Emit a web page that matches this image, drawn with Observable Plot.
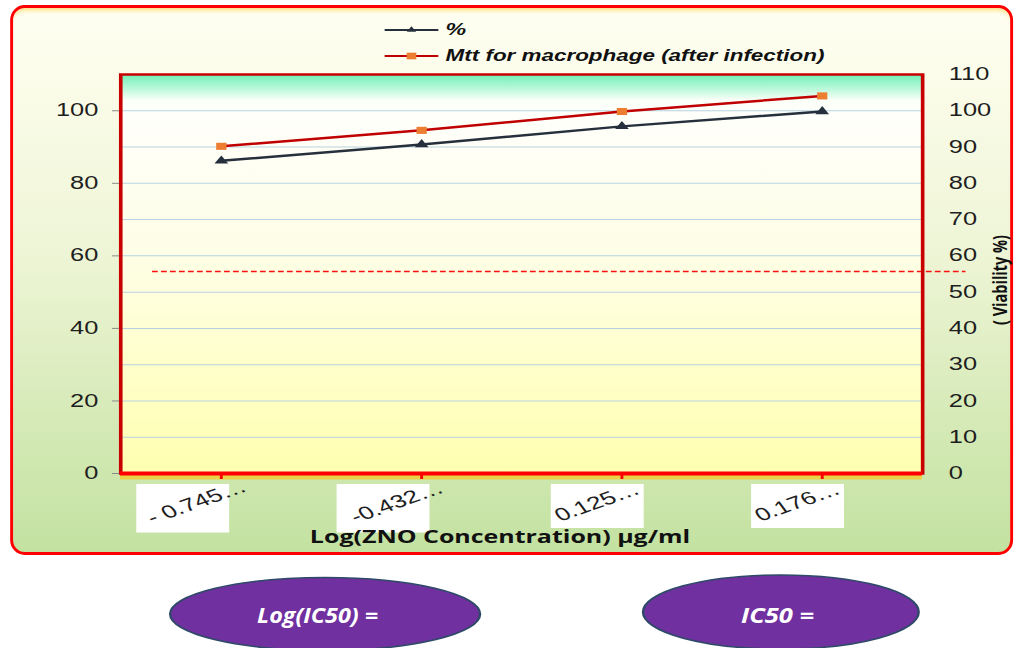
<!DOCTYPE html>
<html>
<head>
<meta charset="utf-8">
<script src="https://cdn.jsdelivr.net/npm/d3@7"></script>
<script src="https://cdn.jsdelivr.net/npm/@observablehq/plot@0.6"></script>
<style>
  html, body { margin: 0; padding: 0; background: #ffffff; overflow: hidden; }
  #stage { position: absolute; left: 0; top: 0; width: 700px; height: 648px; transform-origin: 0 0; transform: scaleX(1.4514); }
  #panel { position: absolute; left: 7px; top: 5px; width: 691px; height: 550px; box-sizing: border-box;
    border: 3px solid #ff0000; border-left-width: 2px; border-right-width: 2px; border-radius: 10px / 15px;
    background: linear-gradient(to bottom, #fffff2 0%, #fbfce9 14%, #eef5d6 45%, #d6eab8 75%, #c3e2a1 100%);
    box-shadow: inset 0 5px 4px -3px rgba(245, 190, 0, 0.55); }
  #chart { position: absolute; left: 0; top: 0; }
  #overlay { position: absolute; left: 0; top: 0; pointer-events: none; }
</style>
</head>
<body>
<div id="stage">
  <div id="panel"></div>
  <div id="chart"></div>
  <svg id="overlay" width="700" height="648" viewBox="0 0 700 648"></svg>
</div>
<script>
// ---- data ----
const categories = ["- 0.745…", "-0.432…", "0.125…", "0.176…"];
const percentValues = [86.2, 90.7, 95.7, 99.8];          // "%" series (dark, triangles)
const mttValues = [90.2, 94.6, 99.8, 104.1];             // "Mtt for macrophage (after infection)"
const cutoffLevel = [55.7];                              // red dashed reference line
const leftTicks = [0, 20, 40, 60, 80, 100];
const rightTicks = [0, 10, 20, 30, 40, 50, 60, 70, 80, 90, 100, 110];
const gridTicks = [10, 20, 30, 40, 50, 60, 70, 80, 90, 100];
const seriesNames = ["%", "Mtt for macrophage (after infection)"];
const xTitle = "Log(ZNO  Concentration) µg/ml";
const yRightTitle = "( Viability %)";
const bubbleTexts = ["Log(IC50) =", "IC50 ="];

const data = categories.map((c, i) => ({cat: c, pct: percentValues[i], mtt: mttValues[i]}));

const darkColor = "#262f3c";
const redLine = "#c00000";
const orange = "#ed7d31";

const negBox = { draw(ctx) { ctx.rect(-58.6, 10.5, 64, 48.5); } };
const posBox = { draw(ctx) { ctx.rect(-49, 10.5, 64, 44); } };
const isNeg = (d) => d.trim().startsWith("-");

const chart = Plot.plot({
  width: 700,
  height: 560,
  marginLeft: 82.7,
  marginRight: 64.8,
  marginTop: 74,
  marginBottom: 87,
  style: { background: "transparent", fontFamily: "Liberation Sans, Arial, sans-serif", overflow: "visible" },
  x: { type: "point", domain: categories, padding: 0.5, axis: null },
  y: { domain: [0, 110], axis: null },
  marks: [
    Plot.frame({ fill: "url(#plotbg)", stroke: "none" }),
    Plot.gridY(gridTicks, { stroke: "#b7d3e0", strokeOpacity: 1, strokeWidth: 1 }),
    Plot.axisY(leftTicks, { anchor: "left", tickSize: 5.5, tickPadding: 10, stroke: "#8a8a8a", fill: "#1e1e1e", fontSize: 17.5, label: null }),
    Plot.axisY(rightTicks, { anchor: "right", tickSize: 0, tickPadding: 18, fill: "#1e1e1e", fontSize: 17.5, label: null }),
    Plot.ruleY(cutoffLevel, { stroke: "#ff1010", strokeWidth: 1.6, strokeDasharray: "4,2.2", insetLeft: 22, insetRight: -30 }),
    Plot.line(data, { x: "cat", y: "pct", stroke: darkColor, strokeWidth: 2.5 }),
    Plot.dot(data, { x: "cat", y: "pct", symbol: "triangle", fill: darkColor, r: 3.5 }),
    Plot.line(data, { x: "cat", y: "mtt", stroke: redLine, strokeWidth: 2.5 }),
    Plot.dot(data, { x: "cat", y: "mtt", symbol: "square", fill: orange, r: 4 }),
    Plot.frame({ stroke: "#c80000", strokeWidth: 2.5 }),
    Plot.ruleY([0], { stroke: "#ffc400", strokeWidth: 5, dy: 3.5, strokeOpacity: 0.6 }),
    Plot.ruleY([0], { stroke: "#ff0000", strokeWidth: 4 }),
    Plot.axisX(categories, { tickSize: 6, stroke: "#ff0000", strokeWidth: 2, tickFormat: () => "", label: null }),
    Plot.dot(categories.filter(isNeg), { x: (d) => d, frameAnchor: "bottom", symbol: negBox, fill: "#ffffff", stroke: "none" }),
    Plot.dot(categories.filter((d) => !isNeg(d)), { x: (d) => d, frameAnchor: "bottom", symbol: posBox, fill: "#ffffff", stroke: "none" }),
    Plot.text(categories, { x: (d) => d, frameAnchor: "bottom", text: (d) => d, rotate: -27, dx: -14.5, dy: 34, fontSize: 18, fill: "#1e1e1e" })
  ]
});

// gradient for plot area background
const svgSel = d3.select(chart);
const defs = svgSel.insert("defs", ":first-child");
const grad = defs.append("linearGradient").attr("id", "plotbg").attr("x1", 0).attr("y1", 0).attr("x2", 0).attr("y2", 1);
[[0, "#6ef0b6"], [0.065, "#fbfff8"], [0.1, "#fffffb"], [0.45, "#fefee6"], [1, "#ffffb0"]].forEach(([o, c]) =>
  grad.append("stop").attr("offset", o).attr("stop-color", c));

document.getElementById("chart").appendChild(chart);

// ---- overlay: legend, axis titles, bottom bubbles ----
const ov = d3.select("#overlay");
const legendFont = "Liberation Sans, Arial, sans-serif";
const rows = [
  { y: 30, stroke: darkColor, sym: d3.symbolTriangle, fill: darkColor, size: 18, label: seriesNames[0], len: null },
  { y: 56, stroke: redLine, sym: d3.symbolSquare, fill: orange, size: 44, label: seriesNames[1], len: 261 }
];
rows.forEach((r) => {
  ov.append("line").attr("x1", 265).attr("x2", 302).attr("y1", r.y).attr("y2", r.y)
    .attr("stroke", r.stroke).attr("stroke-width", 2);
  ov.append("path").attr("d", d3.symbol(r.sym, r.size)()).attr("transform", `translate(283.5,${r.y})`).attr("fill", r.fill);
  const t = ov.append("text").attr("x", 307).attr("y", r.y + 5.5)
    .attr("font-family", legendFont).attr("font-size", 16).attr("font-weight", "bold").attr("font-style", "italic")
    .attr("fill", "#111").text(r.label);
  if (r.len) t.attr("textLength", r.len).attr("lengthAdjust", "spacingAndGlyphs");
});

ov.append("text").attr("x", 344.5).attr("y", 543).attr("text-anchor", "middle")
  .attr("font-family", "Open Sans, sans-serif").attr("font-size", 18).attr("font-weight", "bold")
  .attr("fill", "#111").attr("textLength", 262).attr("lengthAdjust", "spacingAndGlyphs").text(xTitle);

ov.append("text").attr("transform", "translate(688.5,280) rotate(-90)").attr("text-anchor", "middle")
  .attr("dominant-baseline", "central")
  .attr("font-family", "Open Sans, sans-serif").attr("font-size", 14).attr("font-weight", "bold")
  .attr("fill", "#111").attr("textLength", 90).attr("lengthAdjust", "spacingAndGlyphs").text(yRightTitle);

const bubbles = [
  { cx: 224, cy: 614, rx: 106.8, ry: 36.5, tx: 218.8, len: 83.4, label: bubbleTexts[0] },
  { cx: 538, cy: 612, rx: 95, ry: 37, tx: 535.7, len: 50.3, label: bubbleTexts[1] }
];
bubbles.forEach((b) => {
  ov.append("ellipse").attr("cx", b.cx).attr("cy", b.cy).attr("rx", b.rx).attr("ry", b.ry)
    .attr("fill", "#7030a0").attr("stroke", "#2f4a68").attr("stroke-width", 1.6);
  ov.append("text").attr("x", b.tx).attr("y", 623.5).attr("text-anchor", "middle")
    .attr("font-family", "Open Sans, sans-serif").attr("font-size", 21).attr("font-weight", "bold").attr("font-style", "italic")
    .attr("fill", "#ffffff").attr("textLength", b.len).attr("lengthAdjust", "spacingAndGlyphs").text(b.label);
});
</script>
</body>
</html>
